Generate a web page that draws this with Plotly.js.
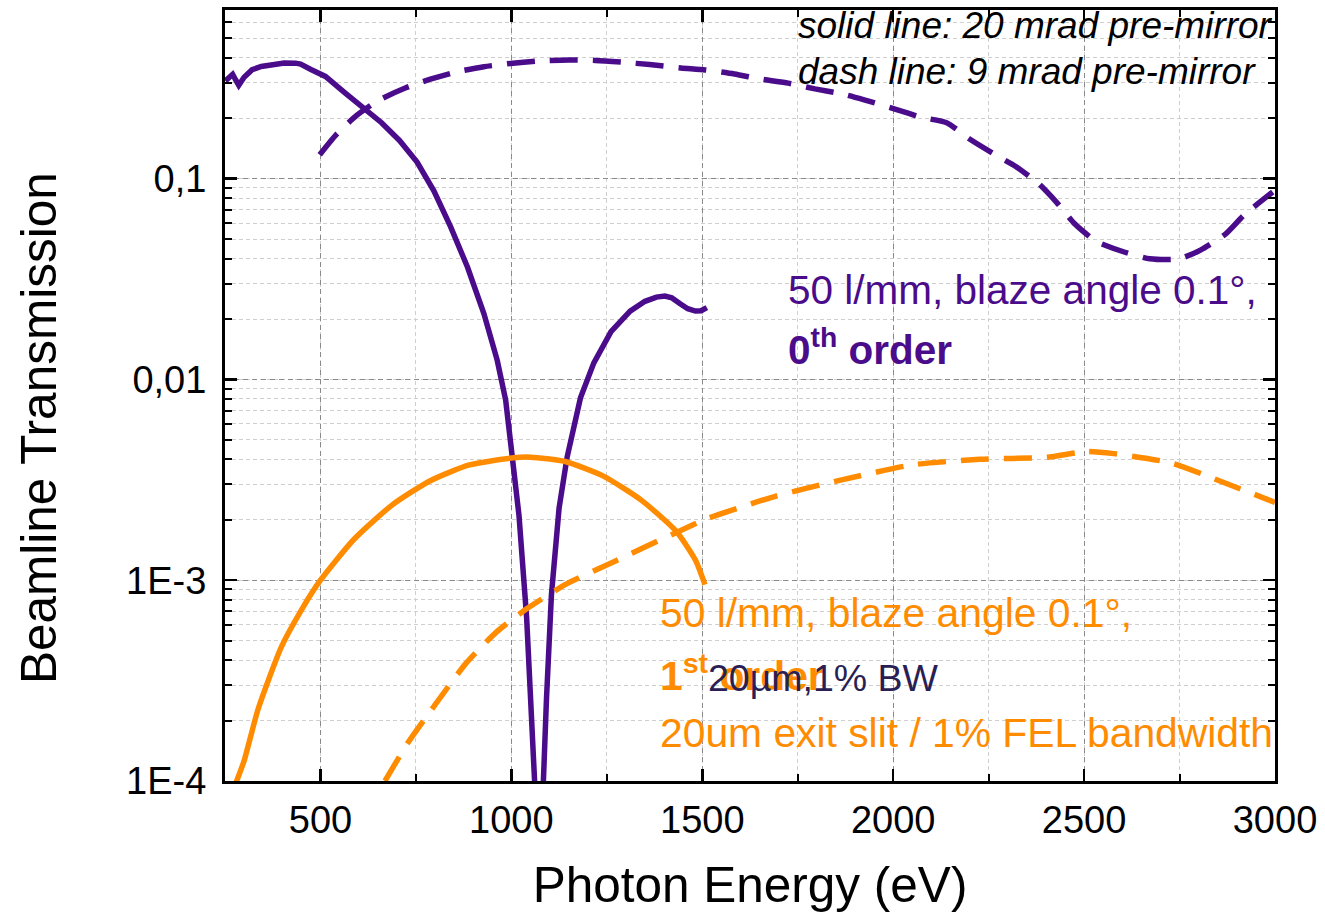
<!DOCTYPE html>
<html>
<head>
<meta charset="utf-8">
<script src="https://cdn.plot.ly/plotly-3.0.1.min.js"></script>
<style>html,body{margin:0;padding:0;background:#fff;}#chart{width:1325px;height:921px;}</style>
</head>
<body>
<div id="chart"></div>
<script>
// 0th order, 20 mrad pre-mirror (solid, purple)
const energy0Solid = [251, 262, 270, 278, 286, 300, 321, 345, 374, 405, 435, 448, 475, 513, 565, 613, 660, 707, 753, 797, 841, 885, 928, 963, 985, 1000, 1020, 1040, 1055, 1062, 1072, 1083, 1092, 1105, 1125, 1146, 1181, 1216, 1261, 1311, 1350, 1380, 1402, 1420, 1442, 1462, 1482, 1497, 1512];
const trans0Solid = [0.307, 0.32, 0.331, 0.31, 0.292, 0.32, 0.349, 0.362, 0.372, 0.377, 0.376, 0.372, 0.35, 0.323, 0.267, 0.226, 0.19, 0.155, 0.121, 0.087, 0.0575, 0.0363, 0.0213, 0.01245, 0.0079, 0.0045, 0.0021, 0.00065, 0.000174, 0.00009, 0.00001, 0.00009, 0.000257, 0.00085, 0.00229, 0.0041, 0.0081, 0.0121, 0.0173, 0.0219, 0.0245, 0.0257, 0.026, 0.0255, 0.0238, 0.0225, 0.0219, 0.0220, 0.0228];

// 0th order, 9 mrad pre-mirror (dashed, purple)
const energy0Dash = [498, 539, 594, 653, 722, 788, 862, 928, 1004, 1072, 1150, 1220, 1292, 1362, 1444, 1508, 1584, 1654, 1725, 1795, 1871, 1924, 2009, 2074, 2140, 2199, 2266, 2321, 2381, 2428, 2476, 2532, 2607, 2672, 2748, 2806, 2871, 2918, 2994];
const trans0Dash = [0.1316, 0.164, 0.206, 0.246, 0.283, 0.313, 0.342, 0.361, 0.376, 0.386, 0.39, 0.388, 0.38, 0.37, 0.356, 0.348, 0.332, 0.313, 0.299, 0.28, 0.263, 0.247, 0.221, 0.202, 0.19, 0.158, 0.132, 0.115, 0.0944, 0.0762, 0.0594, 0.0487, 0.043, 0.0399, 0.0398, 0.0442, 0.0531, 0.0656, 0.0858];

// 1st order, 20 mrad pre-mirror (solid, orange)
const energy1Solid = [276, 300, 337, 398, 450, 500, 588, 689, 789, 890, 1000, 1050, 1141, 1241, 1341, 1432, 1482, 1507];
const trans1Solid = [0.000095, 0.000126, 0.000229, 0.000467, 0.00071, 0.001, 0.0016, 0.00238, 0.00314, 0.00375, 0.00406, 0.0041, 0.0039, 0.0033, 0.0025, 0.00175, 0.00126, 0.00095];

// 1st order, 9 mrad pre-mirror (dashed, orange)
const energy1Dash = [669, 729, 799, 880, 960, 1040, 1141, 1270, 1438, 1514, 1689, 1865, 2052, 2227, 2403, 2508, 2578, 2730, 2871, 3000];
const trans1Dash = [0.0001, 0.000155, 0.000238, 0.000383, 0.00055, 0.00072, 0.00095, 0.00124, 0.00175, 0.00203, 0.00261, 0.00316, 0.00376, 0.0040, 0.0041, 0.00438, 0.00427, 0.00383, 0.00304, 0.00244];

const xTickVals = [500, 1000, 1500, 2000, 2500, 3000];
const yTickVals = [0.0001, 0.001, 0.01, 0.1];
const yTickText = ['1E-4', '1E-3', '0,01', '0,1'];

const PURPLE = '#4a0c8a';
const ORANGE = '#ff8c00';
const ARIAL = '"Liberation Sans", Arial, sans-serif';

const traces = [
  {x: energy0Solid, y: trans0Solid, mode: 'lines', line: {color: PURPLE, width: 5.5}},
  {x: energy0Dash, y: trans0Dash, mode: 'lines', line: {color: PURPLE, width: 5.5, dash: '28px,15px', shape: 'spline', smoothing: 0.6}},
  {x: energy1Solid, y: trans1Solid, mode: 'lines', line: {color: ORANGE, width: 5.5, shape: 'spline', smoothing: 0.6}},
  {x: energy1Dash, y: trans1Dash, mode: 'lines', line: {color: ORANGE, width: 5.5, dash: '28px,15px', shape: 'spline', smoothing: 0.6}}
];

function px(x) { return (x - 225) / 1050; }
function py(y) { return (781 - y) / 771; }

const ann = (text, x, y, color, size, extra) => Object.assign({
  text: text, xref: 'paper', yref: 'paper', x: px(x), y: py(y),
  xanchor: 'left', yanchor: 'middle', showarrow: false,
  font: {color: color, size: size, family: ARIAL}
}, extra || {});

const layout = {
  width: 1325, height: 921,
  margin: {l: 225, r: 50, t: 10, b: 140},
  paper_bgcolor: '#fff', plot_bgcolor: '#fff',
  showlegend: false,
  xaxis: {
    range: [250, 3000], tickmode: 'array', tickvals: xTickVals,
    ticks: 'inside', ticklen: 12, tickwidth: 2.5, tickcolor: '#000',
    showline: true, linecolor: '#000', linewidth: 3, mirror: 'ticks',
    showgrid: true, gridcolor: '#8a8a8a', griddash: '5px,4px', gridwidth: 1,
    zeroline: false,
    minor: {dtick: 250, tick0: 250, ticks: 'inside', ticklen: 7, tickwidth: 2, tickcolor: '#000', showgrid: true, gridcolor: '#cfcfcf', griddash: '4px,3px', gridwidth: 1},
    tickfont: {family: ARIAL, size: 38, color: '#000'},
    ticklabelstandoff: 3,
    title: {text: 'Photon Energy (eV)', font: {family: ARIAL, size: 49.5, color: '#000'}, standoff: 28}
  },
  yaxis: {
    type: 'log', range: [-4, -0.16], tickmode: 'array', tickvals: yTickVals, ticktext: yTickText,
    ticks: 'inside', ticklen: 12, tickwidth: 2.5, tickcolor: '#000',
    showline: true, linecolor: '#000', linewidth: 3, mirror: 'ticks',
    showgrid: true, gridcolor: '#8a8a8a', griddash: '5px,4px', gridwidth: 1,
    zeroline: false,
    minor: {dtick: 'D1', ticks: 'inside', ticklen: 7, tickwidth: 2, tickcolor: '#000', showgrid: true, gridcolor: '#cfcfcf', griddash: '4px,3px', gridwidth: 1},
    tickfont: {family: ARIAL, size: 38, color: '#000'},
    ticklabelstandoff: 8
  },
  annotations: [
    ann('Beamline Transmission', 38, 428, '#000', 49.5, {xanchor: 'center', textangle: -90}),
    ann('<i>solid line: 20 mrad pre-mirror</i>', 796, 25, '#000', 37),
    ann('<i>dash line: 9 mrad pre-mirror</i>', 796, 71, '#000', 37),
    ann('50 l/mm, blaze angle 0.1°,', 786, 290, PURPLE, 40.5),
    ann('<b>0<sup>th</sup> order</b>', 786, 347, PURPLE, 40.5),
    ann('50 l/mm, blaze angle 0.1°,', 658, 613, ORANGE, 40.8),
    ann('<b>1<sup>st</sup> order</b>', 658, 673, ORANGE, 40.8),
    ann('20µm,1% BW', 706, 678, '#2a1f55', 37.5),
    ann('20um exit slit / 1% FEL bandwidth', 658, 733, ORANGE, 40.8)
  ]
};

Plotly.newPlot('chart', traces, layout, {staticPlot: true, displayModeBar: false});
</script>
</body>
</html>
